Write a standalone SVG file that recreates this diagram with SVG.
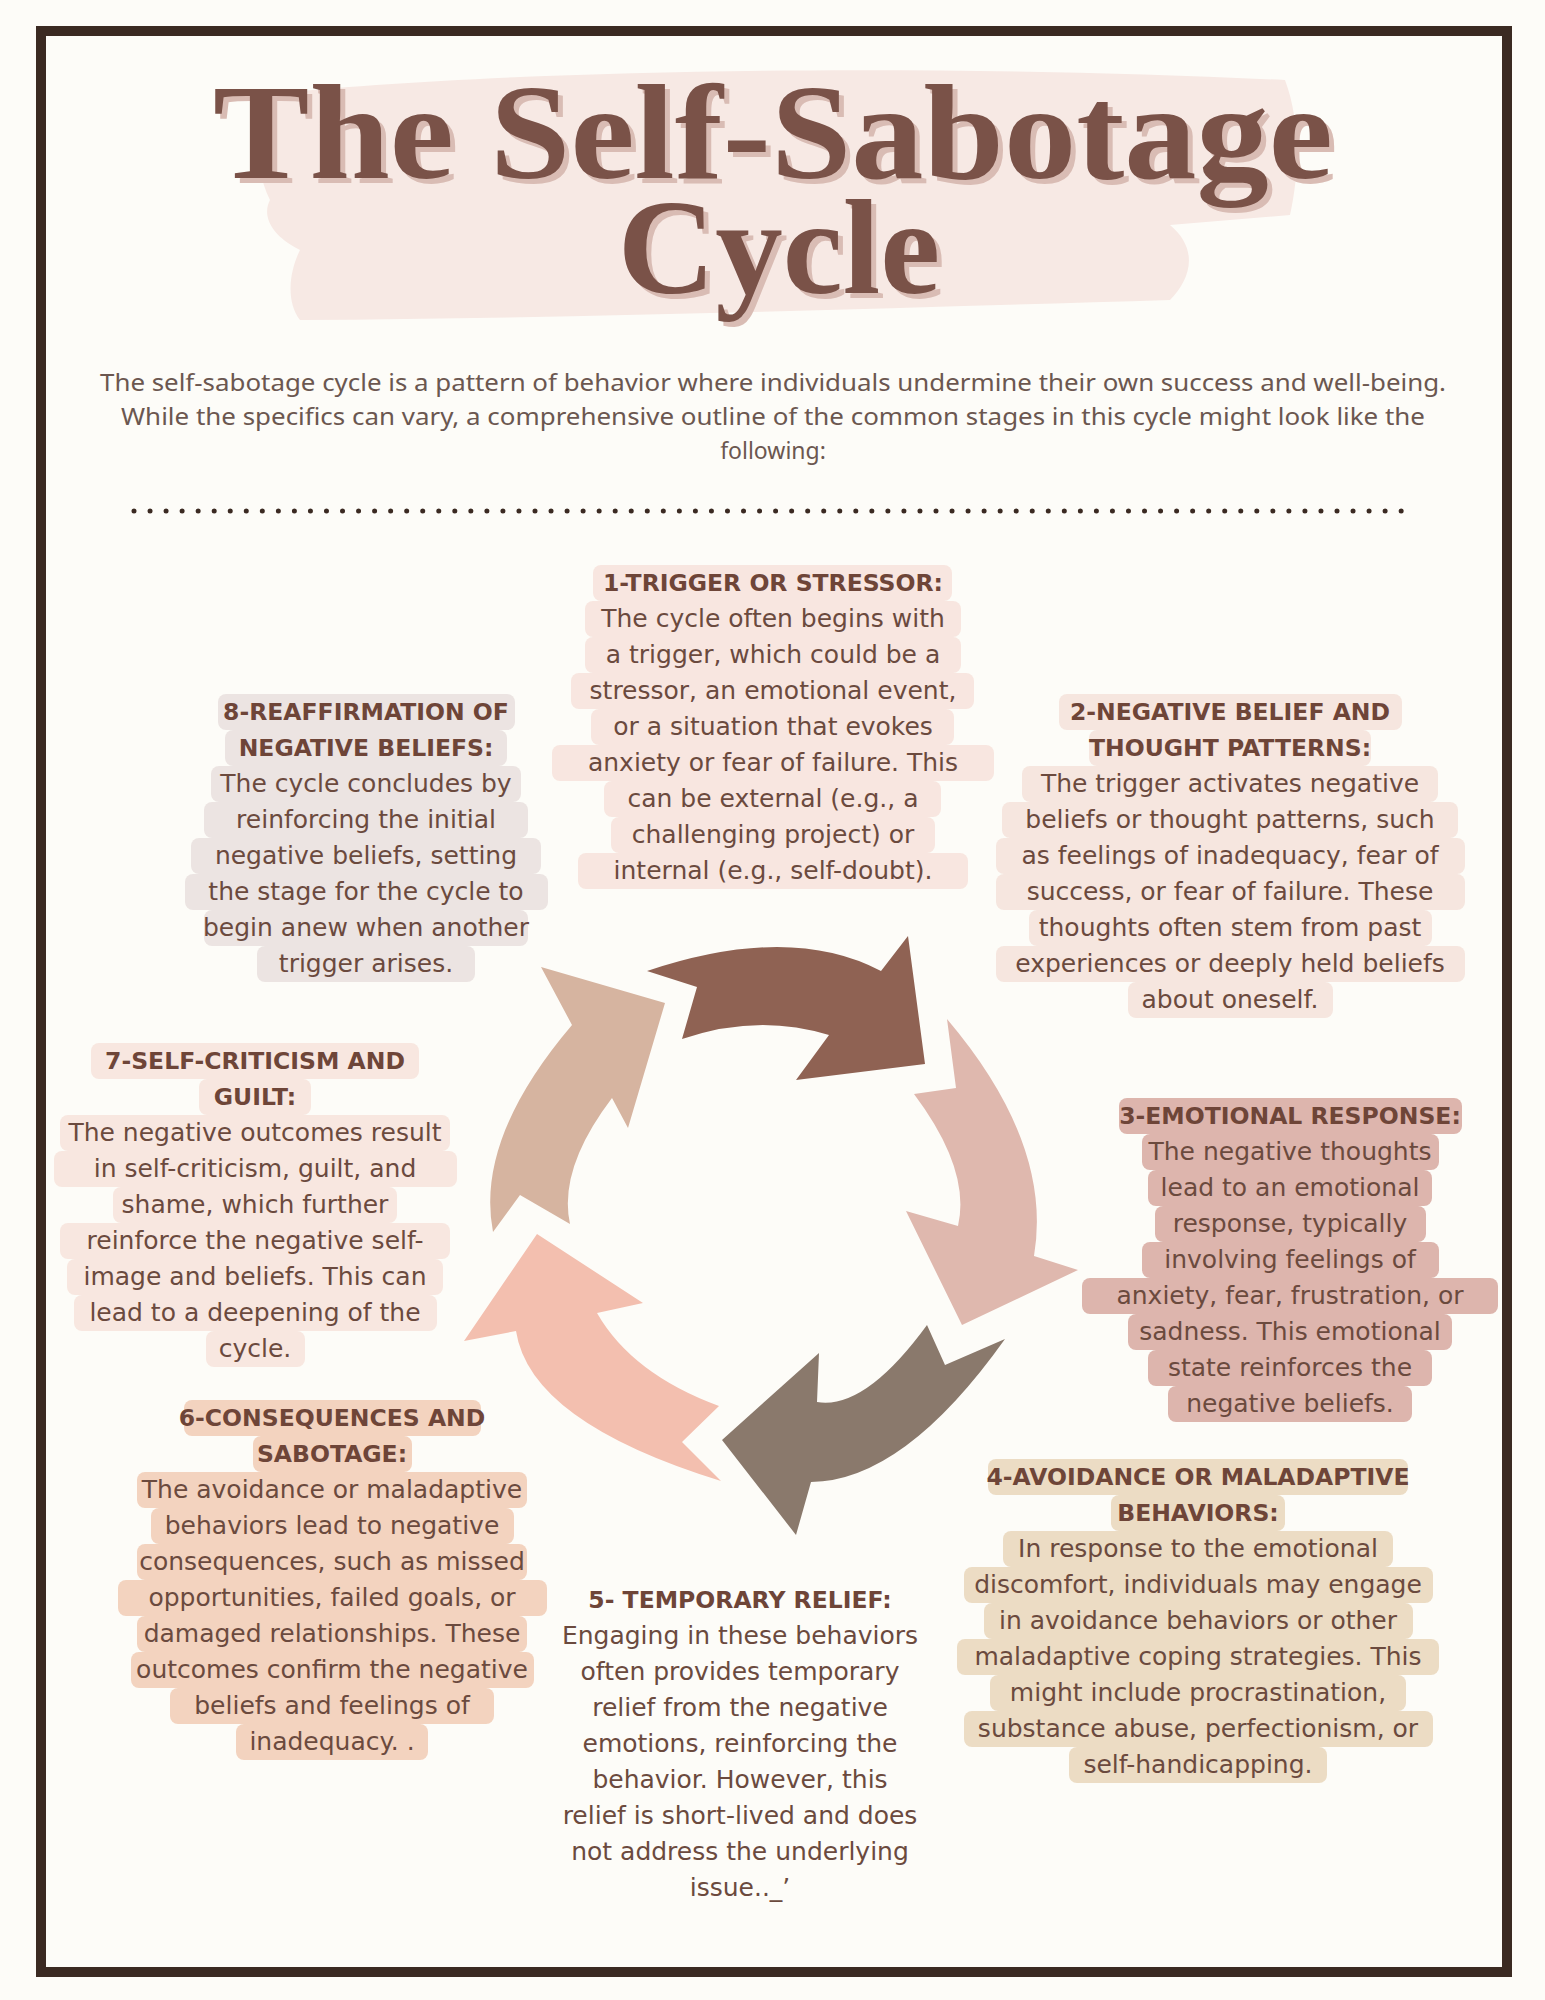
<svg xmlns="http://www.w3.org/2000/svg" width="1545" height="2000" viewBox="0 0 1545 2000">
<style>
.t{font-family:"DejaVu Sans","Noto Sans",sans-serif;font-size:25px;fill:#6b4a3e;text-anchor:middle}
.h{font-weight:bold;fill:#6e4538;font-size:23.5px}
.intro{font-family:"Noto Sans","DejaVu Sans",sans-serif;font-size:23px;fill:#6b5750;text-anchor:middle}
.title{font-family:"Liberation Serif","DejaVu Serif",serif;font-weight:bold;font-size:135px;text-anchor:middle}
</style>
<rect x="0" y="0" width="1545" height="2000" fill="#fdfcf8"/>
<rect x="41" y="31" width="1466" height="1941" fill="#fdfcf8" stroke="#3b2a22" stroke-width="10"/>
<path d="M260,95 C500,70 900,62 1285,80 C1300,120 1300,170 1290,215 L1170,225 C1200,250 1190,280 1170,300 C900,308 600,318 300,320 C285,300 290,270 300,250 C270,235 262,215 270,200 C255,170 255,130 260,95 Z" fill="#f7e9e4"/>
<g id="title">
<text class="title" x="778" y="183" fill="#d9bcb4" textLength="1120" lengthAdjust="spacingAndGlyphs">The Self-Sabotage</text>
<text class="title" x="773" y="178" fill="#7a5248" textLength="1120" lengthAdjust="spacingAndGlyphs">The Self-Sabotage</text>
<text class="title" x="784" y="298" fill="#d9bcb4">Cycle</text>
<text class="title" x="779" y="293" fill="#7a5248">Cycle</text>
</g>
<g id="intro">
<text class="intro" x="773" y="391" textLength="1346" lengthAdjust="spacingAndGlyphs">The self-sabotage cycle is a pattern of behavior where individuals undermine their own success and well-being.</text>
<text class="intro" x="773" y="425" textLength="1304" lengthAdjust="spacingAndGlyphs">While the specifics can vary, a comprehensive outline of the common stages in this cycle might look like the</text>
<text class="intro" x="773" y="459">following:</text>
</g>
<line x1="134" y1="511" x2="1417" y2="511" stroke="#3b2a22" stroke-width="5" stroke-linecap="round" stroke-dasharray="0 16.04"/>
<g id="connectors">
<path d="M647,971 Q790,923 881,971 L908,936 L925,1064 L796,1080 L829,1035 Q758,1013 682,1039 L697,987 Z" fill="#8f6253"/>
<path d="M947,1019 Q1053,1144 1034,1256 L1078,1270 L962,1325 L906,1211 L958,1226 Q971,1170 914,1094 L956,1088 Z" fill="#dfb8ae"/>
<path d="M1005,1339 Q904,1481 811,1482 L796,1535 L722,1440 L819,1353 L817,1402 Q865,1410 927,1325 L945,1365 Z" fill="#8a796c"/>
<path d="M721,1481 Q530,1422 516,1331 L464,1341 L537,1234 L643,1303 L597,1313 Q632,1374 719,1406 L682,1442 Z" fill="#f3bfaf"/>
<path d="M493,1232 Q475,1139 572,1025 L541,967 L665,1003 L628,1128 L612,1098 Q558,1169 570,1224 L520,1195 Z" fill="#d6b4a0"/>
</g>
<g id="n1" fill="#f8e6e0">
<rect x="593" y="565" width="359" height="36" rx="8"/><rect x="585" y="601" width="376" height="36" rx="8"/><rect x="585" y="637" width="376" height="36" rx="8"/><rect x="571" y="673" width="403" height="36" rx="8"/><rect x="591" y="709" width="363" height="36" rx="8"/><rect x="552" y="745" width="442" height="36" rx="8"/><rect x="604" y="781" width="337" height="36" rx="8"/><rect x="611" y="817" width="324" height="36" rx="8"/><rect x="578" y="853" width="390" height="36" rx="8"/>
<text class="t h" x="773" y="591">1-TRIGGER OR STRESSOR:</text>
<text class="t" x="773" y="627">The cycle often begins with</text>
<text class="t" x="773" y="663">a trigger, which could be a</text>
<text class="t" x="773" y="699">stressor, an emotional event,</text>
<text class="t" x="773" y="735">or a situation that evokes</text>
<text class="t" x="773" y="771">anxiety or fear of failure. This</text>
<text class="t" x="773" y="807">can be external (e.g., a</text>
<text class="t" x="773" y="843">challenging project) or</text>
<text class="t" x="773" y="879">internal (e.g., self-doubt).</text>
</g>
<g id="n2" fill="#f6e6df">
<rect x="1059" y="694" width="343" height="36" rx="8"/><rect x="1089" y="730" width="282" height="36" rx="8"/><rect x="1022" y="766" width="416" height="36" rx="8"/><rect x="1002" y="802" width="456" height="36" rx="8"/><rect x="996" y="838" width="469" height="36" rx="8"/><rect x="996" y="874" width="469" height="36" rx="8"/><rect x="1029" y="910" width="403" height="36" rx="8"/><rect x="996" y="946" width="469" height="36" rx="8"/><rect x="1128" y="982" width="205" height="36" rx="8"/>
<text class="t h" x="1230" y="720">2-NEGATIVE BELIEF AND</text>
<text class="t h" x="1230" y="756">THOUGHT PATTERNS:</text>
<text class="t" x="1230" y="792">The trigger activates negative</text>
<text class="t" x="1230" y="828">beliefs or thought patterns, such</text>
<text class="t" x="1230" y="864">as feelings of inadequacy, fear of</text>
<text class="t" x="1230" y="900">success, or fear of failure. These</text>
<text class="t" x="1230" y="936">thoughts often stem from past</text>
<text class="t" x="1230" y="972">experiences or deeply held beliefs</text>
<text class="t" x="1230" y="1008">about oneself.</text>
</g>
<g id="n3" fill="#ddb5ad">
<rect x="1119" y="1098" width="343" height="36" rx="8"/><rect x="1142" y="1134" width="297" height="36" rx="8"/><rect x="1148" y="1170" width="284" height="36" rx="8"/><rect x="1155" y="1206" width="271" height="36" rx="8"/><rect x="1142" y="1242" width="297" height="36" rx="8"/><rect x="1082" y="1278" width="416" height="36" rx="8"/><rect x="1128" y="1314" width="324" height="36" rx="8"/><rect x="1148" y="1350" width="284" height="36" rx="8"/><rect x="1168" y="1386" width="244" height="36" rx="8"/>
<text class="t h" x="1290" y="1124">3-EMOTIONAL RESPONSE:</text>
<text class="t" x="1290" y="1160">The negative thoughts</text>
<text class="t" x="1290" y="1196">lead to an emotional</text>
<text class="t" x="1290" y="1232">response, typically</text>
<text class="t" x="1290" y="1268">involving feelings of</text>
<text class="t" x="1290" y="1304">anxiety, fear, frustration, or</text>
<text class="t" x="1290" y="1340">sadness. This emotional</text>
<text class="t" x="1290" y="1376">state reinforces the</text>
<text class="t" x="1290" y="1412">negative beliefs.</text>
</g>
<g id="n4" fill="#ecdcc4">
<rect x="988" y="1459" width="420" height="36" rx="8"/><rect x="1111" y="1495" width="174" height="36" rx="8"/><rect x="1003" y="1531" width="390" height="36" rx="8"/><rect x="964" y="1567" width="469" height="36" rx="8"/><rect x="984" y="1603" width="429" height="36" rx="8"/><rect x="957" y="1639" width="482" height="36" rx="8"/><rect x="990" y="1675" width="416" height="36" rx="8"/><rect x="964" y="1711" width="469" height="36" rx="8"/><rect x="1069" y="1747" width="258" height="36" rx="8"/>
<text class="t h" x="1198" y="1485">4-AVOIDANCE OR MALADAPTIVE</text>
<text class="t h" x="1198" y="1521">BEHAVIORS:</text>
<text class="t" x="1198" y="1557">In response to the emotional</text>
<text class="t" x="1198" y="1593">discomfort, individuals may engage</text>
<text class="t" x="1198" y="1629">in avoidance behaviors or other</text>
<text class="t" x="1198" y="1665">maladaptive coping strategies. This</text>
<text class="t" x="1198" y="1701">might include procrastination,</text>
<text class="t" x="1198" y="1737">substance abuse, perfectionism, or</text>
<text class="t" x="1198" y="1773">self-handicapping.</text>
</g>
<g id="n5">
<text class="t h" x="740" y="1608">5- TEMPORARY RELIEF:</text>
<text class="t" x="740" y="1644">Engaging in these behaviors</text>
<text class="t" x="740" y="1680">often provides temporary</text>
<text class="t" x="740" y="1716">relief from the negative</text>
<text class="t" x="740" y="1752">emotions, reinforcing the</text>
<text class="t" x="740" y="1788">behavior. However, this</text>
<text class="t" x="740" y="1824">relief is short-lived and does</text>
<text class="t" x="740" y="1860">not address the underlying</text>
<text class="t" x="740" y="1896">issue.._’</text>
</g>
<g id="n6" fill="#f3d3bf">
<rect x="184" y="1400" width="297" height="36" rx="8"/><rect x="253" y="1436" width="159" height="36" rx="8"/><rect x="137" y="1472" width="390" height="36" rx="8"/><rect x="151" y="1508" width="363" height="36" rx="8"/><rect x="137" y="1544" width="390" height="36" rx="8"/><rect x="118" y="1580" width="429" height="36" rx="8"/><rect x="137" y="1616" width="390" height="36" rx="8"/><rect x="131" y="1652" width="403" height="36" rx="8"/><rect x="170" y="1688" width="324" height="36" rx="8"/><rect x="236" y="1724" width="192" height="36" rx="8"/>
<text class="t h" x="332" y="1426">6-CONSEQUENCES AND</text>
<text class="t h" x="332" y="1462">SABOTAGE:</text>
<text class="t" x="332" y="1498">The avoidance or maladaptive</text>
<text class="t" x="332" y="1534">behaviors lead to negative</text>
<text class="t" x="332" y="1570">consequences, such as missed</text>
<text class="t" x="332" y="1606">opportunities, failed goals, or</text>
<text class="t" x="332" y="1642">damaged relationships. These</text>
<text class="t" x="332" y="1678">outcomes confirm the negative</text>
<text class="t" x="332" y="1714">beliefs and feelings of</text>
<text class="t" x="332" y="1750">inadequacy. .</text>
</g>
<g id="n7" fill="#f8e7e0">
<rect x="91" y="1043" width="328" height="36" rx="8"/><rect x="199" y="1079" width="112" height="36" rx="8"/><rect x="60" y="1115" width="390" height="36" rx="8"/><rect x="54" y="1151" width="403" height="36" rx="8"/><rect x="113" y="1187" width="284" height="36" rx="8"/><rect x="60" y="1223" width="390" height="36" rx="8"/><rect x="67" y="1259" width="376" height="36" rx="8"/><rect x="74" y="1295" width="363" height="36" rx="8"/><rect x="206" y="1331" width="99" height="36" rx="8"/>
<text class="t h" x="255" y="1069">7-SELF-CRITICISM AND</text>
<text class="t h" x="255" y="1105">GUILT:</text>
<text class="t" x="255" y="1141">The negative outcomes result</text>
<text class="t" x="255" y="1177">in self-criticism, guilt, and</text>
<text class="t" x="255" y="1213">shame, which further</text>
<text class="t" x="255" y="1249">reinforce the negative self-</text>
<text class="t" x="255" y="1285">image and beliefs. This can</text>
<text class="t" x="255" y="1321">lead to a deepening of the</text>
<text class="t" x="255" y="1357">cycle.</text>
</g>
<g id="n8" fill="#ece4e2">
<rect x="218" y="694" width="297" height="36" rx="8"/><rect x="225" y="730" width="282" height="36" rx="8"/><rect x="211" y="766" width="310" height="36" rx="8"/><rect x="204" y="802" width="324" height="36" rx="8"/><rect x="191" y="838" width="350" height="36" rx="8"/><rect x="185" y="874" width="363" height="36" rx="8"/><rect x="204" y="910" width="324" height="36" rx="8"/><rect x="257" y="946" width="218" height="36" rx="8"/>
<text class="t h" x="366" y="720">8-REAFFIRMATION OF</text>
<text class="t h" x="366" y="756">NEGATIVE BELIEFS:</text>
<text class="t" x="366" y="792">The cycle concludes by</text>
<text class="t" x="366" y="828">reinforcing the initial</text>
<text class="t" x="366" y="864">negative beliefs, setting</text>
<text class="t" x="366" y="900">the stage for the cycle to</text>
<text class="t" x="366" y="936">begin anew when another</text>
<text class="t" x="366" y="972">trigger arises.</text>
</g>
</svg>
